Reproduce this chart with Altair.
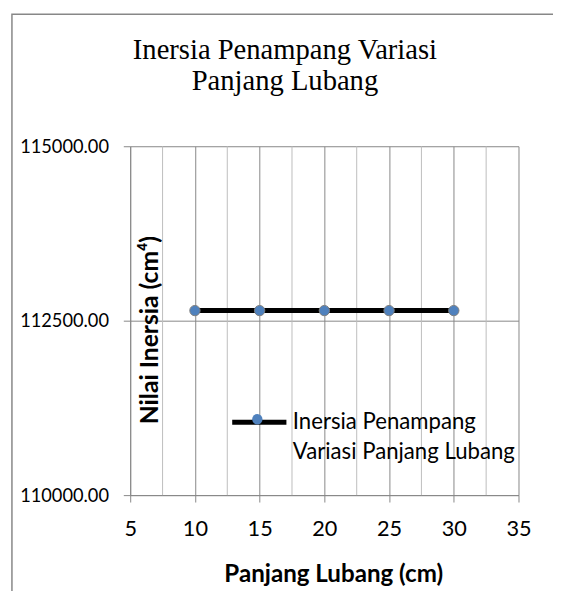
import altair as alt
import pandas as pd

panjang = [10, 15, 20, 25, 30]
inersia = [112645, 112645, 112645, 112645, 112645]
series_name = "Inersia Penampang Variasi Panjang Lubang"
x_ticks = [5, 10, 15, 20, 25, 30, 35]
x_minor = [7.5, 12.5, 17.5, 22.5, 27.5, 32.5]
y_ticks = [110000, 112500, 115000]

df = pd.DataFrame({"x": panjang, "y": inersia,
                   "series": [series_name] * len(panjang),
                   "series2": [series_name] * len(panjang)})
minor_df = pd.DataFrame({"x": x_minor})

GRID = "#878787"
MINOR = "#bdbdbd"
FONT = "Lato"

x_scale = alt.Scale(domain=[5, 35], nice=False, zero=False)
x_enc = alt.X("x:Q", scale=x_scale,
              axis=alt.Axis(values=x_ticks, title="Panjang Lubang (cm)",
                            gridColor=GRID, tickColor=GRID,
                            tickSize=7, labelFontSize=22, labelFont=FONT, labelColor="black",
                            labelBaseline="alphabetic", labelPadding=34,
                            titleFont=FONT, titleFontSize=24.5, titleFontWeight="bold", titleColor="black",
                            titleBaseline="alphabetic", titleX=206, titleY=88,
                            domainColor=GRID, labelFlush=False))
y_enc = alt.Y("y:Q", scale=alt.Scale(domain=[110000, 115000], nice=False, zero=False),
              axis=alt.Axis(values=y_ticks, format=".2f", title="Nilai Inersia (cm⁴)",
                            gridColor=GRID, tickColor=GRID, tickSize=7, domainColor=GRID,
                            labelFontSize=18.5, labelFont=FONT, labelColor="black", labelPadding=15,
                            titleFont=FONT, titleFontSize=25, titleFontWeight="bold", titleColor="black",
                            titleX=28, titleY=186, titleBaseline="alphabetic", labelFlush=False))

minor = alt.Chart(minor_df).mark_rule(color=MINOR, strokeWidth=1).encode(
    x=alt.X("x:Q", scale=x_scale))

line = alt.Chart(df).mark_line(strokeWidth=5).encode(
    x=x_enc, y=y_enc,
    color=alt.Color("series:N", scale=alt.Scale(range=["black"]),
                    legend=alt.Legend(title=None, orient="none", legendX=101, legendY=250,
                                      symbolType="stroke", symbolSize=3025, symbolStrokeWidth=5,
                                      labelFont=FONT, labelFontSize=22.5, labelColor="black",
                                      labelLimit=400, labelOffset=4, padding=0,
                                      labelExpr="['Inersia Penampang', 'Variasi Panjang Lubang']")))

points = alt.Chart(df).mark_point(filled=True, size=110, fill="#4f81bd", stroke="#7f7f7f",
                                  strokeWidth=1, opacity=1).encode(
    x="x:Q", y="y:Q",
    shape=alt.Shape("series2:N", scale=alt.Scale(range=["circle"]),
                    legend=alt.Legend(title=None, orient="none", legendX=123, legendY=271,
                                      symbolSize=110, symbolFillColor="#4f81bd",
                                      symbolStrokeColor="#7f7f7f", symbolStrokeWidth=1,
                                      labelExpr="''", padding=0, symbolOpacity=1)))

frame = alt.Chart(pd.DataFrame({"a": [0]})).mark_rect(
    fillOpacity=0, stroke=GRID, strokeWidth=1.5).encode(
    x=alt.value(-120), x2=alt.value(700), y=alt.value(-134), y2=alt.value(800))

chart = alt.layer(frame, minor, line, points).resolve_legend(color="independent", shape="independent").properties(
    width=394, height=354,
    title=alt.TitleParams(["Inersia Penampang Variasi", "Panjang Lubang"], font="Liberation Serif",
                          fontSize=29, fontWeight="normal", color="black", lineHeight=32,
                          baseline="alphabetic", frame="group",
                          dx=-40, offset=-107, anchor="middle"),
    padding={"left": 124, "top": 136, "right": 35, "bottom": 93},
    autosize=alt.AutoSizeParams(type="none"),
).configure(style={"guide-label": {"lineHeight": 30}}, view={"strokeWidth": 0})

chart.save("out.html", embed_options={"renderer": "svg", "actions": False})
